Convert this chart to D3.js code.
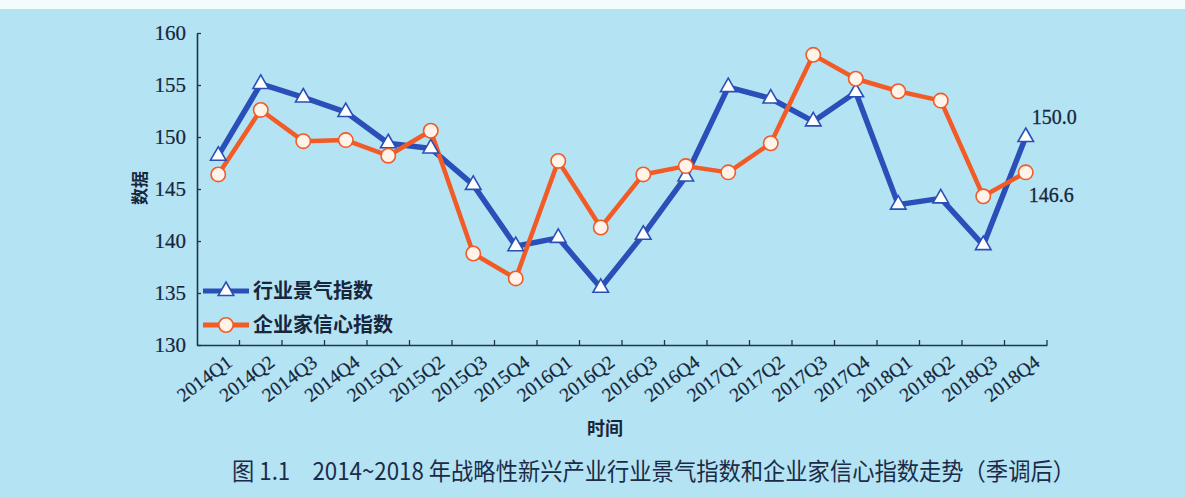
<!DOCTYPE html>
<html><head><meta charset="utf-8">
<script src="https://cdn.jsdelivr.net/npm/d3@7"></script>
<style>html,body{margin:0;padding:0;background:#b4e3f3;}svg{display:block;}</style>
</head><body>
<svg id="chart" width="1185" height="497"></svg>
<script>
const categories = ["2014Q1","2014Q2","2014Q3","2014Q4","2015Q1","2015Q2","2015Q3","2015Q4","2016Q1","2016Q2","2016Q3","2016Q4","2017Q1","2017Q2","2017Q3","2017Q4","2018Q1","2018Q2","2018Q3","2018Q4"];
const industryIndex = [148.2,155.1,153.8,152.4,149.4,148.9,145.4,139.5,140.3,135.5,140.6,146.2,154.8,153.7,151.5,154.3,143.5,144.1,139.6,150.0];
const confidenceIndex = [146.4,152.6,149.6,149.7,148.2,150.6,138.8,136.4,147.7,141.3,146.4,147.2,146.6,149.4,157.9,155.6,154.4,153.5,144.3,146.6];
const yTicks = [130,135,140,145,150,155,160];
const seriesNames = ["行业景气指数","企业家信心指数"];
const caption = "图 1.1　2014~2018 年战略性新兴产业行业景气指数和企业家信心指数走势（季调后）";

const svg = d3.select("#chart");
const W = 1185, H = 497;
svg.append("rect").attr("width",W).attr("height",H).attr("fill","#b4e3f3");
svg.append("rect").attr("width",W).attr("height",9).attr("fill","#f4fbfd");

const x0 = 197, x1 = 1047, yTop = 33, yBot = 345;
const x = d3.scaleBand().domain(categories).range([x0,x1]);
const y = d3.scaleLinear().domain([130,160]).range([yBot,yTop]);
const cx = d => x(d) + x.bandwidth()/2;
const axisColor = "#1d3550";
const textColor = "#16263c";
const serif = "Liberation Serif, Times New Roman, serif";
const cjk = "Noto Sans CJK SC";

// y axis
const yAxis = svg.append("g").attr("transform",`translate(${x0},0)`)
  .call(d3.axisLeft(y).tickValues(yTicks).tickSizeInner(-4).tickSizeOuter(0).tickPadding(12));
yAxis.attr("font-family",serif);
yAxis.select(".domain").attr("stroke",axisColor).attr("stroke-width",1.6);
yAxis.selectAll(".tick line").attr("stroke",axisColor).attr("stroke-width",1.3);
yAxis.selectAll(".tick text").style("font-family",serif).attr("font-size",21).attr("fill",textColor)
  .attr("stroke",textColor).attr("stroke-width",0.2).attr("x",-11);

// x axis
const xAxis = svg.append("g").attr("transform",`translate(0,${yBot})`)
  .call(d3.axisBottom(x).tickSizeInner(0).tickSizeOuter(0).tickFormat(""));
xAxis.select(".domain").attr("stroke",axisColor).attr("stroke-width",1.6);
svg.append("g").selectAll("line").data(categories.slice(1).concat(["__end"])).join("line")
  .attr("x1",(d,i)=> i < categories.length-1 ? x(d) : x1)
  .attr("x2",(d,i)=> i < categories.length-1 ? x(d) : x1)
  .attr("y1",yBot).attr("y2",yBot-5).attr("stroke",axisColor).attr("stroke-width",1.3);
svg.append("g").selectAll("text").data(categories).join("text")
  .attr("transform",d=>`translate(${cx(d)+7},${yBot+9}) rotate(-37)`)
  .attr("text-anchor","end").attr("dy","0.7em")
  .style("font-family",serif).attr("font-size",19.5).attr("fill",textColor)
  .attr("stroke",textColor).attr("stroke-width",0.2)
  .text(d=>d);

// axis titles
svg.append("text").attr("transform","translate(140,188) rotate(-90)").attr("text-anchor","middle").attr("dy","0.35em")
  .style("font-family",cjk).attr("font-size",17).attr("fill",textColor).attr("font-weight","bold").text("数据");
svg.append("text").attr("x",605).attr("y",435).attr("text-anchor","middle")
  .style("font-family",cjk).attr("font-size",18).attr("fill",textColor).attr("font-weight","bold").text("时间");

const blue = "#2a4fb8", orange = "#f25a26";
const line = d3.line().x((d,i)=>cx(categories[i])).y(d=>y(d));

svg.append("path").datum(industryIndex).attr("d",line).attr("fill","none")
  .attr("stroke",blue).attr("stroke-width",5.5).attr("stroke-linejoin","round");
svg.append("path").datum(confidenceIndex).attr("d",line).attr("fill","none")
  .attr("stroke",orange).attr("stroke-width",4.5).attr("stroke-linejoin","round");

const tri = d3.symbol().type(d3.symbolTriangle).size(105);
svg.append("g").selectAll("path").data(industryIndex).join("path")
  .attr("d",tri).attr("transform",(d,i)=>`translate(${cx(categories[i])},${y(d)})`)
  .attr("fill","#ffffff").attr("stroke",blue).attr("stroke-width",1.6);
svg.append("g").selectAll("circle").data(confidenceIndex).join("circle")
  .attr("cx",(d,i)=>cx(categories[i])).attr("cy",d=>y(d)).attr("r",7.2)
  .attr("fill","#fff3ea").attr("stroke",orange).attr("stroke-width",1.6);

// end labels
const last = categories.length-1;
svg.append("text").attr("x",cx(categories[last])+6).attr("y",y(industryIndex[last])-13)
  .style("font-family",serif).attr("font-size",20).attr("fill",textColor).attr("stroke",textColor).attr("stroke-width",0.3)
  .text(industryIndex[last].toFixed(1));
svg.append("text").attr("x",cx(categories[last])+3).attr("y",y(confidenceIndex[last])+30)
  .style("font-family",serif).attr("font-size",20).attr("fill",textColor).attr("stroke",textColor).attr("stroke-width",0.3)
  .text(confidenceIndex[last].toFixed(1));

// legend
const lg = svg.append("g");
[[blue,"tri",291],[orange,"circle",325]].forEach((s,k)=>{
  lg.append("line").attr("x1",203).attr("x2",249).attr("y1",s[2]).attr("y2",s[2]).attr("stroke",s[0]).attr("stroke-width",5);
  if(s[1]==="tri") lg.append("path").attr("d",tri).attr("transform",`translate(226,${s[2]})`).attr("fill","#fff").attr("stroke",blue).attr("stroke-width",1.6);
  else lg.append("circle").attr("cx",226).attr("cy",s[2]).attr("r",7.2).attr("fill","#fff3ea").attr("stroke",orange).attr("stroke-width",1.6);
  lg.append("text").attr("x",253).attr("y",s[2]).attr("dy","0.36em")
    .style("font-family",cjk).attr("font-size",20).attr("font-weight","bold").attr("fill",textColor).text(seriesNames[k]);
});

// caption
svg.append("text").attr("x",232).attr("y",480).attr("textLength",843).attr("lengthAdjust","spacingAndGlyphs")
  .style("font-family",cjk).attr("font-size",24).attr("fill","#1c2b48").text(caption);
</script>
</body></html>
